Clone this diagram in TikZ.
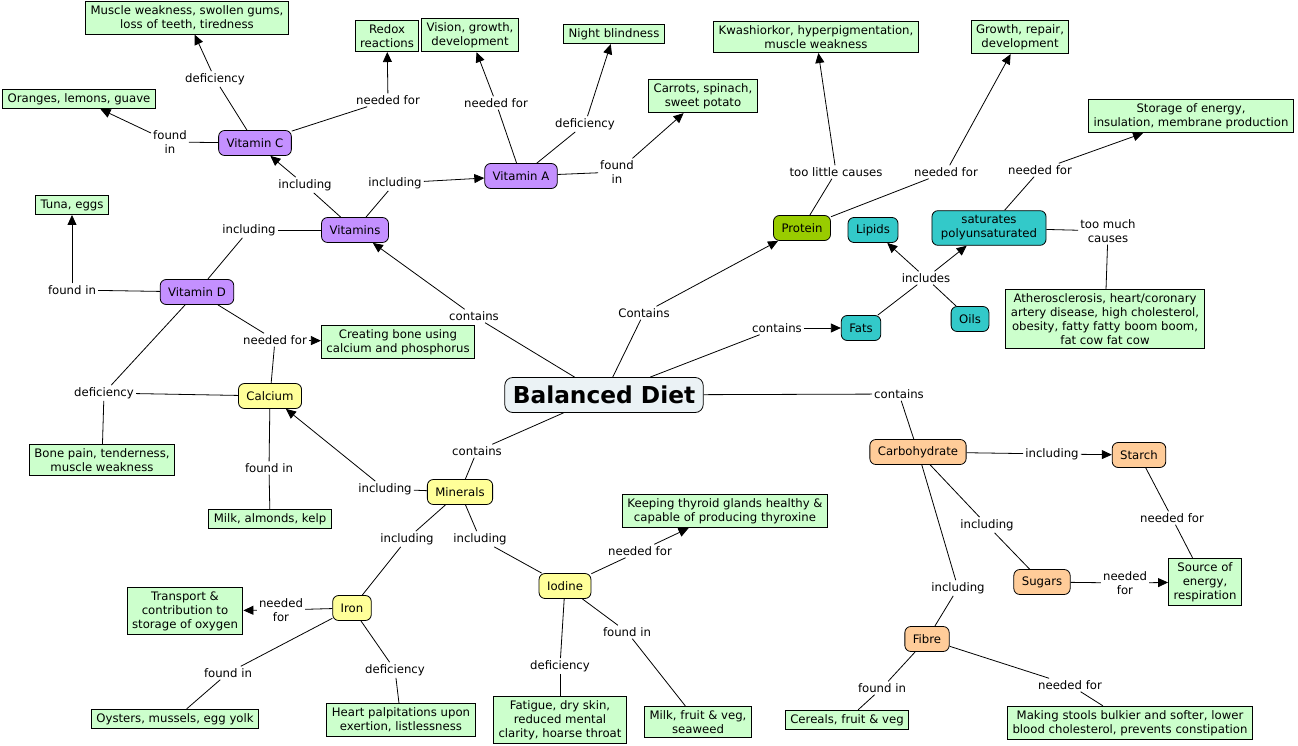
\documentclass[tikz,border=0pt]{standalone}
\usepackage{fontspec}
\setmainfont{DejaVu Sans}
\usetikzlibrary{arrows.meta}

\definecolor{vitfill}{HTML}{C490FF}
\definecolor{minfill}{HTML}{FFFF99}
\definecolor{protfill}{HTML}{99CC00}
\definecolor{fatfill}{HTML}{33C9C9}
\definecolor{carbfill}{HTML}{FFCC99}
\definecolor{leaffill}{HTML}{CCFFCC}
\definecolor{dietfill}{HTML}{EBF2F5}

\newcommand\mapfont{\fontsize{11.7}{14}\selectfont}

\tikzset{
	concept/.style={draw, line width=0.8pt, rounded corners=6pt, inner xsep=8pt, minimum height=25pt, align=center, font=\mapfont},
	vit/.style={concept, fill=vitfill},
	mineral/.style={concept, fill=minfill},
	fat/.style={concept, fill=fatfill},
	carb/.style={concept, fill=carbfill},
	leaf/.style={draw, line width=1pt, fill=leaffill, inner xsep=5pt, inner ysep=4pt, align=center, font=\mapfont},
	phrase/.style={fill=white, inner sep=2pt, align=center, font=\mapfont},
	link/.style={line width=0.8pt},
	linkto/.style={line width=0.8pt, -{Triangle[length=10pt,width=9pt]}}
}

\begin{document}
\begin{tikzpicture}[x=1pt, y=-1pt]
	\useasboundingbox (0,0) rectangle (1298,746);

	% concepts
	\node[concept, fill=dietfill, rounded corners=8pt, inner xsep=8pt, minimum height=35pt, font=\fontsize{23.3}{26}\selectfont\bfseries] (diet) at (604,395) {Balanced Diet};
	\node[vit] (vitamins) at (355,230) {Vitamins};
	\node[vit] (vitc) at (255,143) {Vitamin C};
	\node[vit] (vita) at (521,176) {Vitamin A};
	\node[vit] (vitd) at (197,292) {Vitamin D};
	\node[mineral] (calcium) at (270,396) {Calcium};
	\node[mineral] (minerals) at (460,492) {Minerals};
	\node[mineral] (iron) at (352,608) {Iron};
	\node[mineral] (iodine) at (565,586) {Iodine};
	\node[concept, fill=protfill] (protein) at (802,228) {Protein};
	\node[fat] (lipids) at (873,230) {Lipids};
	\node[fat, inner ysep=5pt, inner xsep=9pt] (satpoly) at (989,228) {saturates\\polyunsaturated};
	\node[fat] (fats) at (861,328) {Fats};
	\node[fat] (oils) at (970,319) {Oils};
	\node[carb] (carbo) at (918,452) {Carbohydrate};
	\node[carb] (starch) at (1139,455) {Starch};
	\node[carb] (sugars) at (1042,582) {Sugars};
	\node[carb] (fibre) at (927,639) {Fibre};

	% facts
	\node[leaf] (vitcdef) at (187,18) {Muscle weakness, swollen gums,\\loss of teeth, tiredness};
	\node[leaf] (redox) at (387,36) {Redox\\reactions};
	\node[leaf] (vision) at (470,35) {Vision, growth,\\development};
	\node[leaf] (night) at (614,34) {Night blindness};
	\node[leaf] (carrots) at (703,96) {Carrots, spinach,\\sweet potato};
	\node[leaf] (kwash) at (816,37) {Kwashiorkor, hyperpigmentation,\\muscle weakness};
	\node[leaf] (growth) at (1020,37) {Growth, repair,\\development};
	\node[leaf] (storage) at (1191,116) {Storage of energy,\\insulation, membrane production};
	\node[leaf] (athero) at (1105,319) {Atherosclerosis, heart/coronary\\artery disease, high cholesterol,\\obesity, fatty fatty boom boom,\\fat cow fat cow};
	\node[leaf] (oranges) at (79,99) {Oranges, lemons, guave};
	\node[leaf] (tuna) at (72,205) {Tuna, eggs};
	\node[leaf] (bonemake) at (398,342) {Creating bone using\\calcium and phosphorus};
	\node[leaf] (bonepain) at (102,460) {Bone pain, tenderness,\\muscle weakness};
	\node[leaf] (milkalm) at (270,519) {Milk, almonds, kelp};
	\node[leaf] (thyroid) at (725,511) {Keeping thyroid glands healthy \&\\capable of producing thyroxine};
	\node[leaf] (oxygen) at (185,611) {Transport \&\\contribution to\\storage of oxygen};
	\node[leaf] (oysters) at (175,719) {Oysters, mussels, egg yolk};
	\node[leaf] (heart) at (401,720) {Heart palpitations upon\\exertion, listlessness};
	\node[leaf] (fatigue) at (560,720) {Fatigue, dry skin,\\reduced mental\\clarity, hoarse throat};
	\node[leaf] (milkfruit) at (698,722) {Milk, fruit \& veg,\\seaweed};
	\node[leaf] (cereals) at (847,720) {Cereals, fruit \& veg};
	\node[leaf] (energy) at (1205,582) {Source of\\energy,\\respiration};
	\node[leaf] (stools) at (1130,723) {Making stools bulkier and softer, lower\\blood cholesterol, prevents constipation};

	% linking phrases
	\node[phrase] (cdef) at (215,79) {deficiency};
	\node[phrase] (cneed) at (388,100) {needed for};
	\node[phrase] (cfound) at (170,142) {found\\in};
	\node[phrase] (incc) at (305,185) {including};
	\node[phrase] (inca) at (395,183) {including};
	\node[phrase] (incd) at (249,230) {including};
	\node[phrase] (aneed) at (496,103) {needed for};
	\node[phrase] (adef) at (585,124) {deficiency};
	\node[phrase] (afound) at (617,172) {found\\in};
	\node[phrase] (dfound) at (72,290) {found in};
	\node[phrase] (dneed) at (275,340) {needed for};
	\node[phrase] (ddef) at (104,393) {deficiency};
	\node[phrase] (cafound) at (269,468) {found in};
	\node[phrase] (contv) at (474,316) {contains};
	\node[phrase] (contm) at (477,451) {contains};
	\node[phrase] (incca) at (385,489) {including};
	\node[phrase] (incfe) at (407,539) {including};
	\node[phrase] (inci) at (480,539) {including};
	\node[phrase] (ineed) at (640,551) {needed for};
	\node[phrase] (ifound) at (627,632) {found in};
	\node[phrase] (idef) at (560,666) {deficiency};
	\node[phrase] (feneed) at (281,610) {needed\\for};
	\node[phrase] (fefound) at (228,673) {found in};
	\node[phrase] (fedef) at (395,670) {deficiency};
	\node[phrase] (contp) at (644,313) {Contains};
	\node[phrase] (contf) at (777,328) {contains};
	\node[phrase] (contc) at (899,394) {contains};
	\node[phrase] (plittle) at (836,172) {too little causes};
	\node[phrase] (pneed) at (946,172) {needed for};
	\node[phrase] (fincl) at (926,278) {includes};
	\node[phrase] (sneed) at (1040,170) {needed for};
	\node[phrase] (smuch) at (1108,231) {too much\\causes};
	\node[phrase] (incst) at (1052,454) {including};
	\node[phrase] (incsu) at (987,525) {including};
	\node[phrase] (incfi) at (958,588) {including};
	\node[phrase] (stneed) at (1172,518) {needed for};
	\node[phrase] (suneed) at (1125,583) {needed\\for};
	\node[phrase] (fifound) at (882,688) {found in};
	\node[phrase] (fineed) at (1070,685) {needed for};

	% connectors
	\foreach \from/\to in {vitc/cdef, vitc/cneed, vitc/cfound, vitamins/incc, vitamins/inca, vitamins/incd, incd/vitd,
		vita/aneed, vita/adef, vita/afound, vitd/dfound, vitd/dneed, calcium/dneed, vitd/ddef, calcium/ddef, ddef/bonepain,
		calcium/cafound, cafound/milkalm, diet/contv, diet/contm, contm/minerals, minerals/incca, minerals/incfe, incfe/iron,
		minerals/inci, inci/iodine, iodine/ineed, iodine/ifound, ifound/milkfruit, iodine/idef, idef/fatigue,
		iron/feneed, iron/fefound, fefound/oysters, iron/fedef, fedef/heart, diet/contp, diet/contf, diet/contc, contc/carbo,
		protein/plittle, protein/pneed, fats/fincl, oils/fincl, satpoly/sneed, satpoly/smuch, smuch/athero,
		carbo/incst, carbo/incsu, incsu/sugars, carbo/incfi, incfi/fibre, starch/stneed, stneed/energy, sugars/suneed,
		fibre/fifound, fifound/cereals, fibre/fineed, fineed/stools}
		\draw[link] (\from) -- (\to);
	\foreach \from/\to in {cdef/vitcdef, cneed/redox, cfound/oranges, incc/vitc, inca/vita, aneed/vision, adef/night,
		afound/carrots, dfound/tuna, dneed/bonemake, contv/vitamins, incca/calcium, ineed/thyroid, feneed/oxygen,
		contp/protein, contf/fats, plittle/kwash, pneed/growth, fincl/lipids, fincl/satpoly, sneed/storage,
		incst/starch, suneed/energy}
		\draw[linkto] (\from) -- (\to);
\end{tikzpicture}
\end{document}
